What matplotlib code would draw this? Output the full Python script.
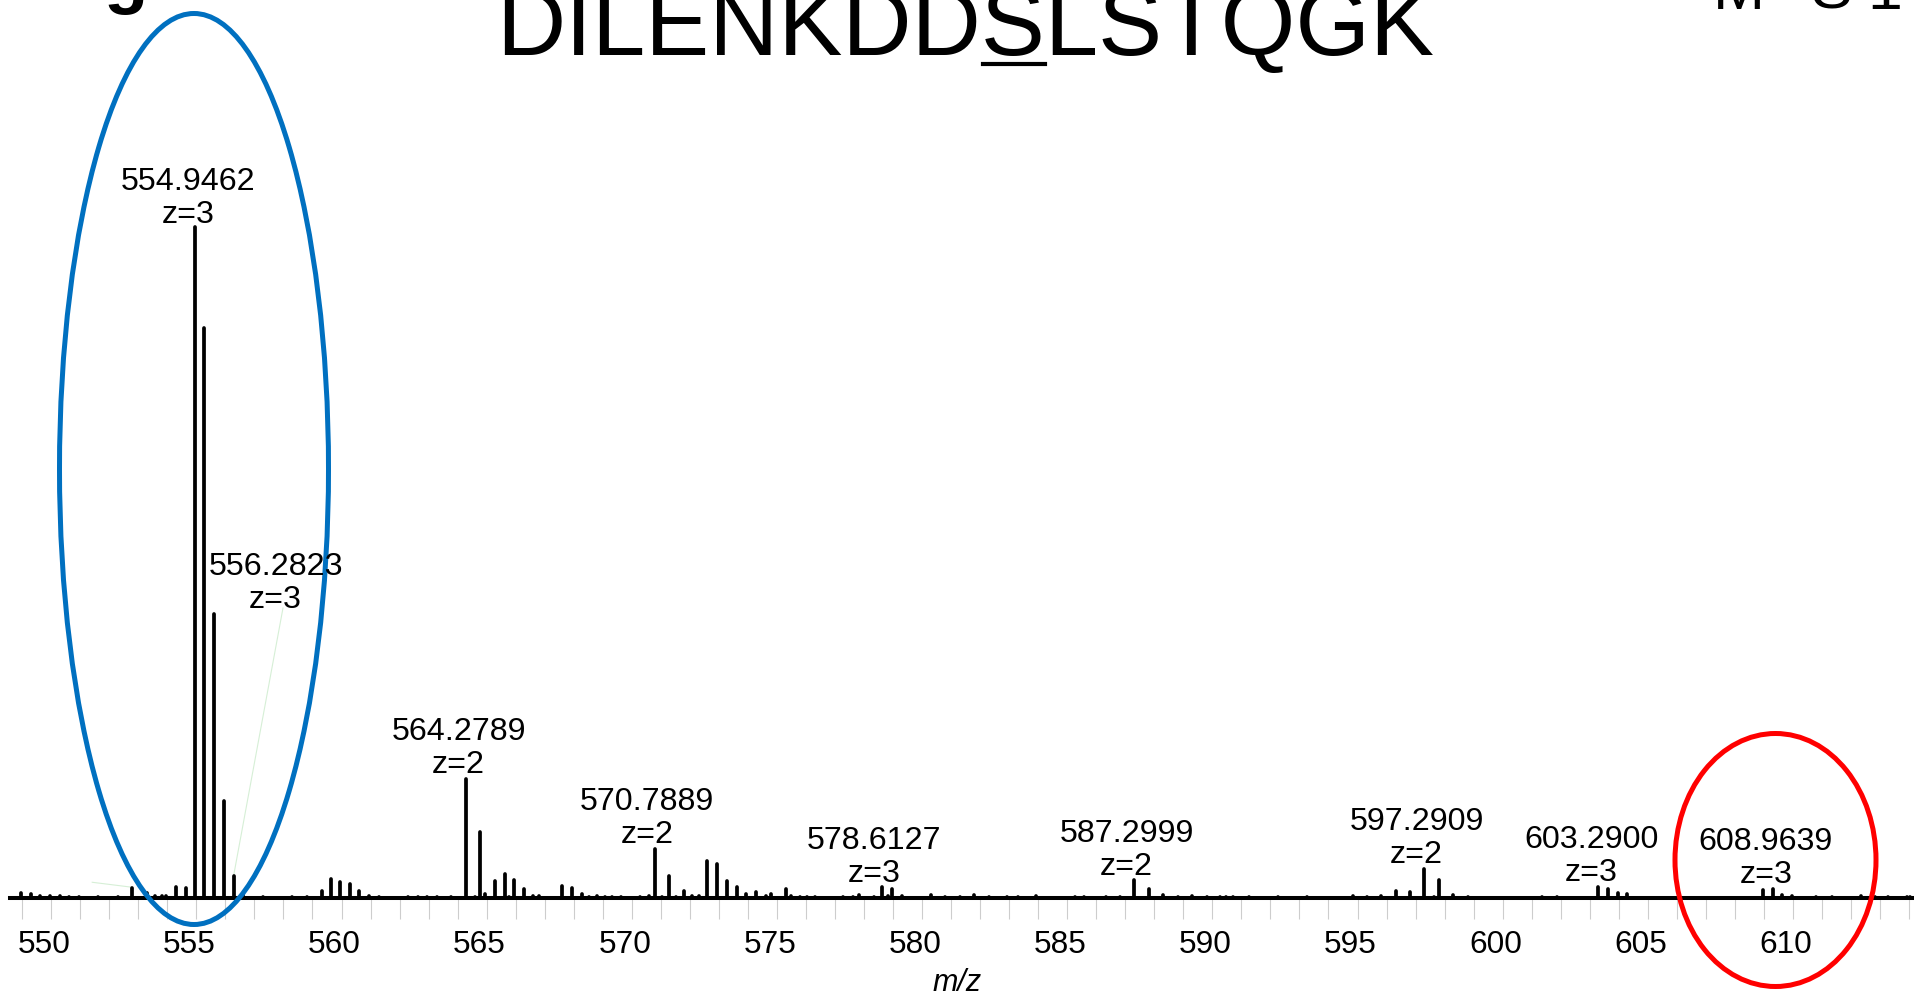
import matplotlib
matplotlib.use("Agg")
import matplotlib.pyplot as plt
import matplotlib.transforms as mtransforms
from matplotlib.patches import Ellipse
from matplotlib.lines import Line2D
from matplotlib.font_manager import FontProperties

W, H = 1914, 995
plt.rcParams['font.family'] = ['Liberation Sans', 'DejaVu Sans']

# ---------------- data ----------------
peak_mz = [
    548.96, 549.29, 549.61, 549.96, 550.30, 550.61, 550.96, 551.62, 552.29, 552.79,
    553.29, 553.57, 553.83, 553.94, 554.29, 554.63, 554.9462, 555.28, 555.61, 555.95,
    556.2823, 556.62, 557.30, 558.28, 558.80, 559.32, 559.63, 559.95, 560.28, 560.61,
    560.95, 561.28, 562.28, 562.62, 562.95, 563.29, 563.78, 564.2789, 564.61, 564.78,
    564.94, 565.30, 565.62, 565.77, 565.94, 566.29, 566.61, 566.81, 567.59, 567.95,
    568.27, 568.53, 568.79, 569.08, 569.31, 569.62, 570.28, 570.59, 570.7889, 571.03,
    571.29, 571.51, 571.81, 572.06, 572.31, 572.59, 572.93, 573.27, 573.61, 573.94,
    574.28, 574.61, 574.78, 575.31, 575.47, 575.79, 576.02, 576.31, 577.28, 577.63,
    577.84, 578.34, 578.6127, 578.81, 578.95, 579.30, 580.29, 580.79, 581.30, 581.80,
    582.30, 582.91, 583.31, 583.91, 585.27, 585.58, 586.33, 586.81, 587.2999, 587.80,
    588.30, 588.80, 589.31, 589.80, 590.26, 590.46, 590.72, 591.26, 592.27, 593.27,
    594.83, 595.31, 595.81, 596.31, 596.80, 597.2909, 597.64, 597.80, 598.30, 598.81,
    601.34, 601.86, 603.2900, 603.62, 603.96, 604.30, 608.9639, 609.30, 609.64, 609.97,
    610.81, 611.33, 612.34, 612.82, 613.28, 613.92, 614.03,
]
peak_int = [
    0.79, 0.60, 0.30, 0.30, 0.34, 0.20, 0.20, 0.20, 0.20, 1.45,
    0.70, 0.30, 0.30, 0.30, 1.68, 1.54, 100.0, 85.0, 42.3, 14.5,
    3.3, 0.55, 0.15, 0.15, 0.15, 1.00, 2.80, 2.34, 2.04, 1.09,
    0.30, 0.20, 0.15, 0.15, 0.20, 0.20, 0.10, 17.7, 0.22, 9.8,
    0.64, 2.58, 3.53, 0.22, 2.64, 1.34, 0.30, 0.34, 1.74, 1.49,
    0.60, 0.15, 0.30, 0.15, 0.20, 0.15, 0.15, 0.30, 7.26, 0.15,
    3.32, 0.20, 1.04, 0.30, 0.30, 5.56, 5.02, 2.58, 1.64, 0.60,
    0.85, 0.30, 0.55, 1.39, 0.30, 0.15, 0.15, 0.15, 0.15, 0.15,
    0.40, 0.15, 1.64, 0.30, 1.34, 0.30, 0.45, 0.15, 0.15, 0.40,
    0.15, 0.15, 0.15, 0.30, 0.15, 0.15, 0.15, 0.15, 2.64, 1.39,
    0.49, 0.15, 0.25, 0.15, 0.15, 0.15, 0.15, 0.15, 0.15, 0.15,
    0.25, 0.15, 0.30, 1.09, 0.89, 4.37, 0.15, 2.64, 0.40, 0.15,
    0.15, 0.15, 1.68, 1.39, 0.79, 0.55, 1.15, 1.34, 0.45, 0.34,
    0.15, 0.15, 0.25, 0.15, 0.15, 0.15, 0.15,
]

label_mz = [554.9462, 556.2823, 564.2789, 570.7889, 578.6127, 587.2999, 597.2909, 603.2900, 608.9639]
label_z = [3, 3, 2, 2, 3, 2, 2, 3, 3]

tick_values = [550, 555, 560, 565, 570, 575, 580, 585, 590, 595, 600, 605, 610]
minor_ticks = list(range(549, 615))

peptide = "DILENKDDSLSTQGK"
underlined_index = 8
panel_letter = "g"
ms_label = ["M", "S", "1"]

# ---------------- layout ----------------
# label placement: (x offset from peak in px, baseline of first line in px from top)
label_layout = [(-7, 190), (42, 575), (-7, 740), (-7.5, 810), (-7.5, 849),
                (-7.5, 842), (-7.5, 830), (-7, 848), (3, 850)]
line_gap = 33
label_fs = 23.2

fig = plt.figure(figsize=(W / 100, H / 100), dpi=100)
base_px = 899
ax = fig.add_axes([10 / W, 1 - base_px / H, 1 - 10 / W, base_px / H])
ax.set_xlim(548.58, 614.17)
ax.set_ylim(0, 100 * base_px / 671)

pix = mtransforms.Affine2D().scale(1, -1).translate(0, H)

lc = ax.vlines(peak_mz, 0, peak_int, colors='black', linewidth=2.7, zorder=2)
lc.set_capstyle('round')

for s in ['left', 'right', 'top']:
    ax.spines[s].set_visible(False)
ax.spines['bottom'].set_linewidth(2.9)
ax.spines['bottom'].set_color('black')
ax.spines['bottom'].set_zorder(3)
ax.set_yticks([])
ax.set_xticks(tick_values)
ax.set_xticklabels([str(v) for v in tick_values])
ax.set_xticks(minor_ticks, minor=True)
ax.tick_params(axis='x', which='both', direction='out', length=15, width=0.8,
               color='#cdcdcd')
ax.tick_params(axis='x', which='major', pad=7.0, labelsize=22.8)
shift = mtransforms.ScaledTranslation(-7 / 100, 0, fig.dpi_scale_trans)
for lab in ax.xaxis.get_majorticklabels():
    lab.set_transform(lab.get_transform() + shift)

ax.set_xlabel('m/z', style='italic', fontsize=22)
ax.xaxis.set_label_coords((957 - 10) / (W - 10), (base_px - 968) / base_px)

# peak labels
blend = mtransforms.blended_transform_factory(ax.transData, pix)
for mz, z, (dx, yb) in zip(label_mz, label_z, label_layout):
    tr = blend + mtransforms.ScaledTranslation(dx / 100, 0, fig.dpi_scale_trans)
    ax.text(mz, yb, f"{mz:.4f}", transform=tr, ha='center', va='baseline',
            fontsize=label_fs, zorder=6)
    ax.text(mz, yb + line_gap, f"z={z}", transform=tr, ha='center', va='baseline',
            fontsize=label_fs, zorder=6)

# faint leader lines
def to_pix(mz, inten):
    x, y = ax.transData.transform((mz, inten))
    return x, H - y

i1 = peak_int[peak_mz.index(556.2823)]
ex, ey = to_pix(556.2823, i1)
ax.add_line(Line2D([283, ex], [609, ey], transform=pix, color='#d6efd6', lw=0.8,
                   zorder=1.5, clip_on=False))
i2 = peak_int[peak_mz.index(552.79)]
ex2, ey2 = to_pix(552.79, i2)
ax.add_line(Line2D([ex2 - 40, ex2], [ey2 - 6, ey2 - 1], transform=pix, color='#d6efd6',
                   lw=0.8, zorder=1.5, clip_on=False))

# ellipses
ax.add_patch(Ellipse((194, 470), 269, 911, transform=pix, fill=False,
                     edgecolor='#0070C0', linewidth=3.6, zorder=4, clip_on=False))
ax.add_patch(Ellipse((1775.5, 861), 201, 253, transform=pix, fill=False,
                     edgecolor='#FF0000', linewidth=3.6, zorder=4, clip_on=False))

# title with underlined S
title_fs = 69
tcx, tby = 965.5, 55
fig.text(tcx, tby, peptide, transform=pix, ha='center', va='baseline', fontsize=title_fs)
renderer = fig.canvas.get_renderer()
fp = FontProperties(family=['Liberation Sans'], size=title_fs)
def tw(s):
    w, h, d = renderer.get_text_width_height_descent(s, fp, ismath=False)
    return w
full_w = tw(peptide)
left = tcx - full_w / 2
u0 = left + tw(peptide[:underlined_index])
u1 = left + tw(peptide[:underlined_index + 1])
fig.add_artist(Line2D([u0 + 2, u1], [65, 65], transform=pix, color='black', lw=3.0))

# panel letter and MS1 (cut off at top in the reference)
fig.text(104, 0, panel_letter, transform=pix, ha='left', va='baseline', fontsize=52,
         fontweight='bold')
for ch, xc in zip(ms_label, [1739, 1831, 1885]):
    fig.text(xc, 9, ch, transform=pix, ha='center', va='baseline', fontsize=45)

fig.savefig('out.png', dpi=100)
